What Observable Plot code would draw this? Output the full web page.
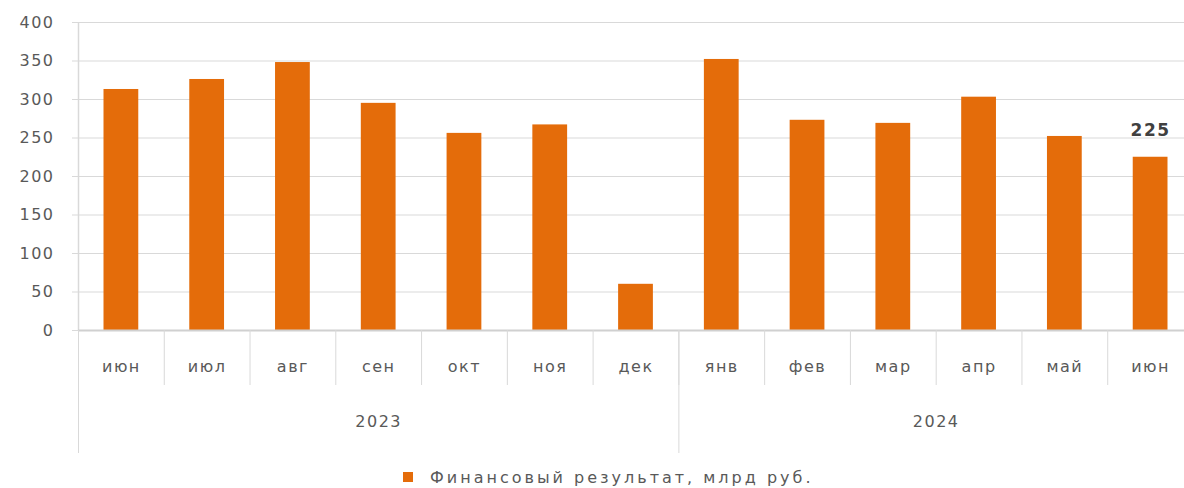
<!DOCTYPE html>
<html>
<head>
<meta charset="utf-8">
<script src="https://cdn.jsdelivr.net/npm/d3@7"></script>
<script src="https://cdn.jsdelivr.net/npm/@observablehq/plot@0.6"></script>
<style>
  html, body { margin: 0; padding: 0; background: #fff; }
  body { width: 1184px; height: 488px; overflow: hidden; position: relative; font-family: "DejaVu Sans", sans-serif; }
  #chart svg text { letter-spacing: 1.5px; }
  #legend { position: absolute; left: 403px; top: 465px; height: 24px; display: flex; align-items: center; font-size: 16px; letter-spacing: 3px; color: #595959; white-space: nowrap; }
  #legend .sw { width: 10px; height: 10px; background: #E46C0A; margin-right: 17px; }
</style>
</head>
<body>
<div id="chart"></div>
<div id="legend"><span class="sw"></span><span>Финансовый результат, млрд руб.</span></div>
<script>
const months = ["июн","июл","авг","сен","окт","ноя","дек","янв","фев","мар","апр","май","июн"];
const values = [313, 326, 348, 295, 256, 267, 60, 352, 273, 269, 303, 252, 225];
const years = ["2023","2024"];
const yearStarts = [0, 7, 13];
const yearCenters = [3.5, 10];
const labelIndex = 12;
const yTicks = [0, 50, 100, 150, 200, 250, 300, 350, 400];

const data = months.map((m, i) => ({i, month: m, value: values[i]}));
const monthEdges = d3.range(0, months.length + 1);
const monthCenters = months.map((m, i) => i + 0.5);

const grid = "#d9d9d9";
const txt = "#595959";

const chart = Plot.plot({
  width: 1184,
  height: 462,
  marginTop: 22,
  marginBottom: 132,
  marginLeft: 78,
  marginRight: 0,
  style: {fontFamily: "DejaVu Sans, sans-serif", fontSize: "16px", color: txt, background: "#fff"},
  x: {type: "linear", domain: [0, months.length], range: [78, 1193]},
  y: {domain: [0, 400]},
  marks: [
    Plot.ruleY(yTicks, {stroke: grid, strokeWidth: 1}),
    Plot.axisY({ticks: yTicks, tickSize: 6, tickPadding: 18, stroke: grid, color: txt, fontSize: 16, label: null}),
    Plot.ruleX([0], {stroke: grid, strokeWidth: 1.5}),
    Plot.rectY(data, {x: "i", interval: 1, y: "value", fill: "#E46C0A", insetLeft: 25.5, insetRight: 25.5}),
    Plot.ruleY([0], {stroke: "#d0d0d0", strokeWidth: 2}),
    Plot.axisX({ticks: monthEdges, tickSize: 55, tickFormat: () => "", stroke: grid, label: null}),
    Plot.axisX({ticks: yearStarts, tickSize: 123, tickFormat: () => "", stroke: grid, label: null}),
    Plot.axisX({ticks: monthCenters, tickSize: 0, tickPadding: 30, tickFormat: (d) => months[Math.floor(d)], color: txt, fontSize: 16, label: null}),
    Plot.axisX({ticks: yearCenters, tickSize: 0, tickPadding: 85, tickFormat: (d, k) => years[k], color: txt, fontSize: 16, label: null}),
    Plot.text([data[labelIndex]], {x: (d) => d.i + 0.5, y: "value", text: (d) => String(d.value), dy: -27, fontWeight: "bold", fontSize: 17, fill: "#404040"})
  ]
});
document.getElementById("chart").appendChild(chart);
</script>
</body>
</html>
